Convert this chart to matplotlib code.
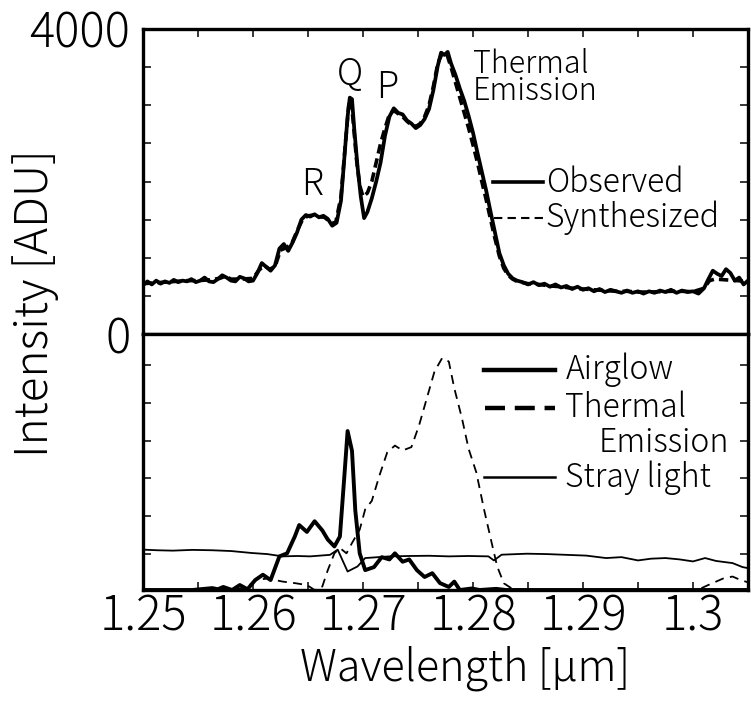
import matplotlib
matplotlib.use("Agg")
import matplotlib.pyplot as plt
from matplotlib.ticker import MultipleLocator, FixedLocator

plt.rcParams['font.family'] = ['Noto Sans CJK JP', 'DejaVu Sans']
plt.rcParams['font.weight'] = 'light'

# ---------------- data ----------------
obs_x = [1.2500, 1.2504, 1.2508, 1.2512, 1.2516, 1.2520, 1.2524, 1.2528, 1.2532, 1.2536,
         1.2540, 1.2544, 1.2548, 1.2552, 1.2556, 1.2560, 1.2564, 1.2568, 1.2572, 1.2576,
         1.2580, 1.2584, 1.2588, 1.2592, 1.2596, 1.2600, 1.2604, 1.2608, 1.2612, 1.2616,
         1.2620, 1.2624, 1.2628, 1.2632, 1.2636, 1.2640, 1.2644, 1.2648, 1.2652, 1.2656,
         1.2660, 1.2664, 1.2668, 1.2672, 1.2676, 1.2680, 1.2683, 1.2686, 1.2688, 1.2690,
         1.2692, 1.2695, 1.2698, 1.2701, 1.2704, 1.2708, 1.2712, 1.2716, 1.2720, 1.2724,
         1.2728, 1.2732, 1.2736, 1.2740, 1.2744, 1.2748, 1.2752, 1.2756, 1.2760, 1.2764,
         1.2768, 1.2771, 1.2774, 1.2777, 1.2780, 1.2784, 1.2788, 1.2792, 1.2796, 1.2800,
         1.2804, 1.2808, 1.2812, 1.2816, 1.2820, 1.2824, 1.2828, 1.2832, 1.2836, 1.2840,
         1.2845, 1.2850, 1.2855, 1.2860, 1.2865, 1.2870, 1.2875, 1.2880, 1.2885, 1.2890,
         1.2895, 1.2900, 1.2905, 1.2910, 1.2915, 1.2920, 1.2925, 1.2930, 1.2935, 1.2940,
         1.2945, 1.2950, 1.2955, 1.2960, 1.2965, 1.2970, 1.2975, 1.2980, 1.2985, 1.2990,
         1.2995, 1.3000, 1.3005, 1.3010, 1.3014, 1.3018, 1.3022, 1.3026, 1.3030, 1.3034,
         1.3038, 1.3042, 1.3046, 1.3050]
obs_y = [640, 690, 650, 700, 660, 690, 670, 710, 680, 700,
         690, 720, 680, 700, 740, 690, 680, 720, 770, 740,
         700, 690, 750, 730, 690, 700, 800, 930, 880, 830,
         900, 1120, 1180, 1090, 1200, 1330, 1500, 1560, 1540, 1570,
         1530, 1550, 1510, 1420, 1460, 1750, 2300, 2850, 3100, 3080,
         2700, 2200, 1800, 1520, 1600, 1780, 2000, 2250, 2600, 2850,
         2960, 2900, 2880, 2800, 2760, 2700, 2740, 2820, 2950, 3200,
         3520, 3690, 3660, 3700, 3550, 3400, 3220, 3060, 2860, 2640,
         2380, 2130, 1880, 1600, 1330, 1060, 900, 790, 730, 700,
         680, 650, 680, 640, 660, 620, 650, 610, 630, 590,
         620, 580, 600, 560, 590, 550, 580, 560, 540, 570,
         540, 560, 530, 560, 540, 570, 550, 580, 540, 570,
         550, 560, 530, 600, 720, 830, 790, 760, 850, 800,
         700, 740, 650, 700]

syn_x = [1.2500, 1.2510, 1.2520, 1.2530, 1.2540, 1.2550, 1.2560, 1.2570, 1.2575, 1.2580,
         1.2590, 1.2600, 1.2605, 1.2610, 1.2615, 1.2620, 1.2625, 1.2630, 1.2635, 1.2640,
         1.2645, 1.2650, 1.2655, 1.2660, 1.2665, 1.2670, 1.2675, 1.2680, 1.2684, 1.2687,
         1.2689, 1.2691, 1.2694, 1.2697, 1.2700, 1.2704, 1.2708, 1.2712, 1.2716, 1.2720,
         1.2724, 1.2728, 1.2732, 1.2736, 1.2740, 1.2744, 1.2748, 1.2752, 1.2756, 1.2760,
         1.2764, 1.2768, 1.2772, 1.2776, 1.2780, 1.2784, 1.2788, 1.2792, 1.2796, 1.2800,
         1.2804, 1.2808, 1.2812, 1.2816, 1.2820, 1.2824, 1.2828, 1.2832, 1.2836, 1.2840,
         1.2850, 1.2860, 1.2870, 1.2880, 1.2890, 1.2900, 1.2910, 1.2920, 1.2930, 1.2940,
         1.2950, 1.2960, 1.2970, 1.2980, 1.2990, 1.3000, 1.3010, 1.3015, 1.3020, 1.3030,
         1.3040, 1.3050]
syn_y = [660, 670, 680, 690, 700, 700, 710, 730, 760, 720,
         720, 730, 830, 900, 850, 880, 1100, 1130, 1180, 1350,
         1500, 1550, 1560, 1540, 1530, 1470, 1450, 1800, 2500, 3000,
         3080, 2800, 2300, 1950, 1800, 1850, 2000, 2250, 2500, 2700,
         2880, 2930, 2890, 2850, 2790, 2740, 2720, 2760, 2850, 3000,
         3250, 3550, 3680, 3680, 3500, 3300, 3100, 2900, 2700, 2480,
         2250, 2000, 1760, 1500, 1250, 1020, 860, 770, 720, 690,
         660, 650, 630, 620, 600, 590, 580, 570, 560, 560,
         550, 550, 555, 560, 560, 555, 600, 700, 720, 710,
         700, 690]

air_x = [1.2500, 1.2545, 1.2552, 1.2563, 1.2568, 1.2573, 1.2581, 1.2588, 1.2595, 1.2602,
         1.2609, 1.2616, 1.2624, 1.2631, 1.2638, 1.2642, 1.2649, 1.2656, 1.2663, 1.2668,
         1.2674, 1.2679, 1.2683, 1.2686, 1.2690, 1.2693, 1.2697, 1.2702, 1.2710, 1.2717,
         1.2724, 1.2729, 1.2736, 1.2742, 1.2749, 1.2756, 1.2763, 1.2770, 1.2778, 1.2783,
         1.2788, 1.2799, 1.2806, 1.2821, 1.2830, 1.3050]
air_y = [0, 0, 10, 25, 10, 40, 0, 65, 10, 130,
         200, 130, 440, 480, 700, 850, 760, 900, 780, 660,
         570, 700, 1480, 2080, 1820, 1040, 480, 260, 300, 430,
         400, 480, 370, 400, 260, 170, 220, 90, 40, 110,
         0, 20, 0, 15, 0, 0]

th_x = [1.2500, 1.2580, 1.2595, 1.2602, 1.2613, 1.2627, 1.2638, 1.2649, 1.2656, 1.2663,
        1.2668, 1.2674, 1.2679, 1.2685, 1.2690, 1.2697, 1.2702, 1.2708, 1.2715, 1.2722,
        1.2729, 1.2736, 1.2744, 1.2751, 1.2758, 1.2765, 1.2772, 1.2778, 1.2783, 1.2790,
        1.2796, 1.2803, 1.2810, 1.2817, 1.2822, 1.2828, 1.2835, 1.2846, 1.3000, 1.3007,
        1.3014, 1.3021, 1.3028, 1.3036, 1.3043, 1.3050]
th_y = [0, 0, 40, 130, 150, 110, 90, 65, 0, 45,
        260, 480, 550, 480, 615, 790, 1056, 1166, 1500, 1800,
        1890, 1826, 1870, 2156, 2508, 2860, 3036, 2990, 2640, 2244,
        1848, 1540, 1056, 616, 308, 88, 22, 0, 0, 20,
        66, 110, 154, 176, 132, 100]

st_x = [1.2500, 1.2513, 1.2527, 1.2545, 1.2563, 1.2580, 1.2599, 1.2613, 1.2627, 1.2640,
        1.2652, 1.2670, 1.2677, 1.2686, 1.2695, 1.2702, 1.2724, 1.2742, 1.2760, 1.2778,
        1.2796, 1.2814, 1.2819, 1.2826, 1.2849, 1.2867, 1.2885, 1.2903, 1.2921, 1.2935,
        1.2950, 1.2962, 1.2975, 1.2988, 1.3000, 1.3011, 1.3021, 1.3036, 1.3045, 1.3050]
st_y = [528, 520, 515, 525, 520, 510, 484, 470, 440, 445,
        440, 460, 528, 242, 308, 418, 440, 445, 448, 440,
        445, 440, 387, 462, 475, 470, 460, 450, 418, 430,
        387, 410, 418, 400, 374, 418, 380, 352, 300, 286]

xtick_vals = [1.25, 1.26, 1.27, 1.28, 1.29, 1.30]
xtick_labels = ['1.25', '1.26', '1.27', '1.28', '1.29', '1.3']
top_yticks = [0, 500, 1000, 1500, 2000, 2500, 3000, 3500, 4000]
top_ylabels = ['0', '', '', '', '', '', '', '', '4000']
bot_yticks = [470, 965, 1460, 1955, 2450, 2945]

# ---------------- figure ----------------
fig = plt.figure(figsize=(7.51, 7.03), dpi=100)
L, W = 143 / 751, 605 / 751
ax1 = fig.add_axes([L, 1 - 334 / 703, W, 305 / 703])
ax2 = fig.add_axes([L, 1 - 590 / 703, W, 256 / 703], sharex=ax1)

k = 'black'
ax1.plot(obs_x, obs_y, color=k, lw=2.7, solid_joinstyle='round')
ax1.plot(syn_x, syn_y, color=k, lw=2.6, dashes=(2.6, 1.4))

ax2.plot(st_x, st_y, color=k, lw=1.3)
ax2.plot(th_x, th_y, color=k, lw=1.3, dashes=(5, 3.5))
ax2.plot(air_x, air_y, color=k, lw=2.8, solid_joinstyle='round')

ax1.set_xlim(1.25, 1.305)
ax1.set_ylim(0, 4000)
ax2.set_ylim(0, 3350)

for ax in (ax1, ax2):
    for s in ax.spines.values():
        s.set_linewidth(2.4)
    ax.tick_params(which='both', direction='in', width=1.1, length=6,
                   top=True, right=True, labelsize=34)
    ax.tick_params(axis='x', pad=2)
    ax.tick_params(axis='y', pad=9)
    ax.xaxis.set_major_locator(FixedLocator(xtick_vals))
    ax.xaxis.set_minor_locator(MultipleLocator(0.005))

ax1.tick_params(which='both', bottom=False, labelbottom=False)
ax2.tick_params(which='both', top=False)
ax1.set_yticks(top_yticks)
ax1.set_yticklabels(top_ylabels)
ax2.set_yticks(bot_yticks)
ax2.set_yticklabels([])
ax2.set_xticks(xtick_vals)
ax2.set_xticklabels(xtick_labels)

fig.text(35 / 751, 1 - 303 / 703, 'Intensity [ADU]', rotation=90,
         ha='center', va='center', fontsize=33)
fig.text(465 / 751, 1 - 668 / 703, 'Wavelength [μm]',
         ha='center', va='center', fontsize=31)

# annotations (top)
ax1.text(1.2654, 1960, 'R', fontsize=26, ha='center', va='center')
ax1.text(1.2688, 3400, 'Q', fontsize=26, ha='center', va='center')
ax1.text(1.2722, 3230, 'P', fontsize=26, ha='center', va='center')
ax1.text(0.545, 0.84, 'Thermal\nEmission', transform=ax1.transAxes, fontsize=22,
         ha='left', va='center', linespacing=0.8)

# top legend
ax1.plot([0.578, 0.661], [0.497, 0.497], transform=ax1.transAxes, color=k, lw=2.6)
ax1.plot([0.580, 0.661], [0.38, 0.38], transform=ax1.transAxes, color=k, lw=1.5,
         dashes=(4, 2.5))
ax1.text(0.666, 0.497, 'Observed', transform=ax1.transAxes, fontsize=23,
         ha='left', va='center')
ax1.text(0.666, 0.38, 'Synthesized', transform=ax1.transAxes, fontsize=23,
         ha='left', va='center')

# bottom legend
ax2.plot([0.564, 0.681], [0.86, 0.86], transform=ax2.transAxes, color=k, lw=3.2)
ax2.plot([0.566, 0.681], [0.71, 0.71], transform=ax2.transAxes, color=k, lw=3.2,
         dashes=(4.5, 2.2))
ax2.plot([0.564, 0.681], [0.44, 0.44], transform=ax2.transAxes, color=k, lw=1.8)
ax2.text(0.698, 0.86, 'Airglow', transform=ax2.transAxes, fontsize=23,
         ha='left', va='center')
ax2.text(0.698, 0.71, 'Thermal', transform=ax2.transAxes, fontsize=23,
         ha='left', va='center')
ax2.text(0.969, 0.575, 'Emission', transform=ax2.transAxes, fontsize=23,
         ha='right', va='center')
ax2.text(0.698, 0.44, 'Stray light', transform=ax2.transAxes, fontsize=23,
         ha='left', va='center')

fig.savefig('out.png', dpi=100)
